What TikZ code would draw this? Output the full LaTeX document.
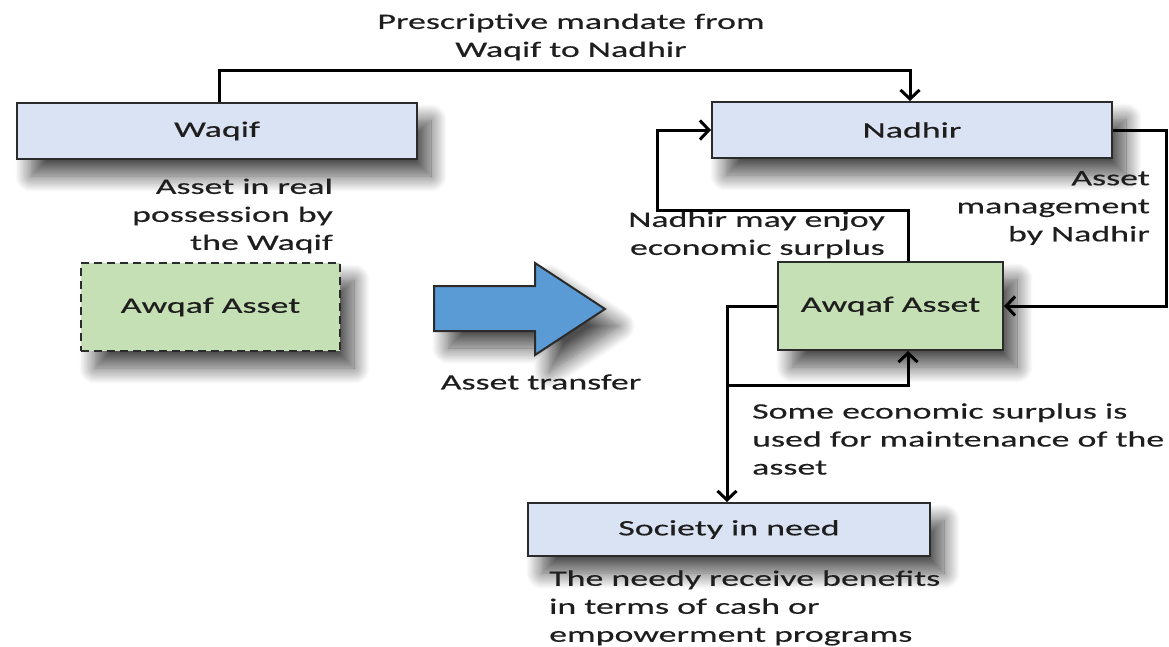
\documentclass[tikz,border=0pt]{standalone}
\usepackage{fontspec}
\setmainfont{Carlito}[FakeStretch=1.63,FakeBold=0.4]
\usetikzlibrary{arrows.meta,shadows.blur,calc}
\definecolor{blueF}{HTML}{DAE3F3}
\definecolor{greenF}{HTML}{C5E0B4}
\definecolor{arrowF}{HTML}{5B9BD5}
\definecolor{edgeC}{HTML}{2B2B2B}
\definecolor{txtC}{HTML}{1E1E1E}
\begin{document}
\begin{tikzpicture}[x=1pt,y=-1pt,
  every node/.style={font=\fontsize{22}{28}\selectfont, text=txtC},
  shad/.style={blur shadow={shadow xshift=14pt, shadow yshift=-17pt, shadow blur radius=16pt, shadow blur steps=18, shadow opacity=70}},
  bluebox/.style={draw=edgeC, line width=2pt, fill=blueF, minimum width=400pt, minimum height=56pt, inner sep=0pt, shad},
  greenbox/.style={draw=edgeC, line width=2pt, fill=greenF, minimum width=225pt, minimum height=88pt, inner sep=0pt, shad},
  lbl/.style={inner sep=0pt},
  conn/.style={draw=black, line width=3pt, -{Straight Barb[length=9pt,width=19pt]}},
]
\useasboundingbox (0,0) rectangle (1169,646);

% boxes
\node[bluebox] (waqif) at (217,131) {Waqif};
\node[bluebox] (nadhir) at (912,130) {Nadhir};
\node[greenbox] (awr) at (890.5,306) {Awqaf Asset};
\node[greenbox, minimum width=259pt, dash pattern=on 8pt off 5pt] (awl) at (210.5,307) {Awqaf Asset};
\node[bluebox, minimum width=402pt, minimum height=53pt] (society) at (729,529.5) {Society in need};

% transfer arrow
\draw[draw=edgeC, line width=2pt, fill=arrowF, line join=miter, shad]
  (434,286) -- (535,286) -- (535,263) -- (605,309) -- (535,355) -- (535,331) -- (434,331) -- cycle;

% labels
\node[lbl, align=center] (lmandate) at (571,37) {Prescriptive mandate from\\Waqif to Nadhir};
\node[lbl, align=right, anchor=east] (lreal) at (333,216) {Asset in real\\possession by\\the Waqif};
\node[lbl] (ltransfer) at (541,382) {Asset transfer};
\node[lbl, align=right, anchor=east] (lmanage) at (1150,208) {Asset\\management\\by Nadhir};
\node[lbl, align=right, anchor=east] (lenjoy) at (885,235) {Nadhir may enjoy\\economic surplus};
\node[lbl, align=left, anchor=west] (lmaint) at (752,439) {Some economic surplus is\\used for maintenance of the\\asset};
\node[lbl, align=left, anchor=west] (lneedy) at (549,608) {The needy receive benefits\\in terms of cash or\\empowerment programs};

% connector corners
\coordinate (tl) at (219,70);
\coordinate (tr) at (910,70);
\coordinate (r1) at (1166,130);
\coordinate (r2) at (1166,306);
\coordinate (u1) at (908,210);
\coordinate (u2) at (657,210);
\coordinate (u3) at (657,130);
\coordinate (l1) at (727,306);
\coordinate (l2) at (727,385);
\coordinate (l3) at (908,385);

% connectors
\draw[conn] (waqif.north -| tl) -- (tl) -- (tr) -- (nadhir.north -| tr);
\draw[conn] (nadhir.east) -- (r1) -- (r2) -- (awr.east);
\draw[conn] (awr.north -| u1) -- (u1) -- (u2) -- (u3) -- (nadhir.west);
\draw[conn] (awr.west) -- (l1) -- (l2) -- (l3) -- (awr.south -| l3);
\draw[conn] (l2) -- (society.north -| l2);
\end{tikzpicture}
\end{document}
